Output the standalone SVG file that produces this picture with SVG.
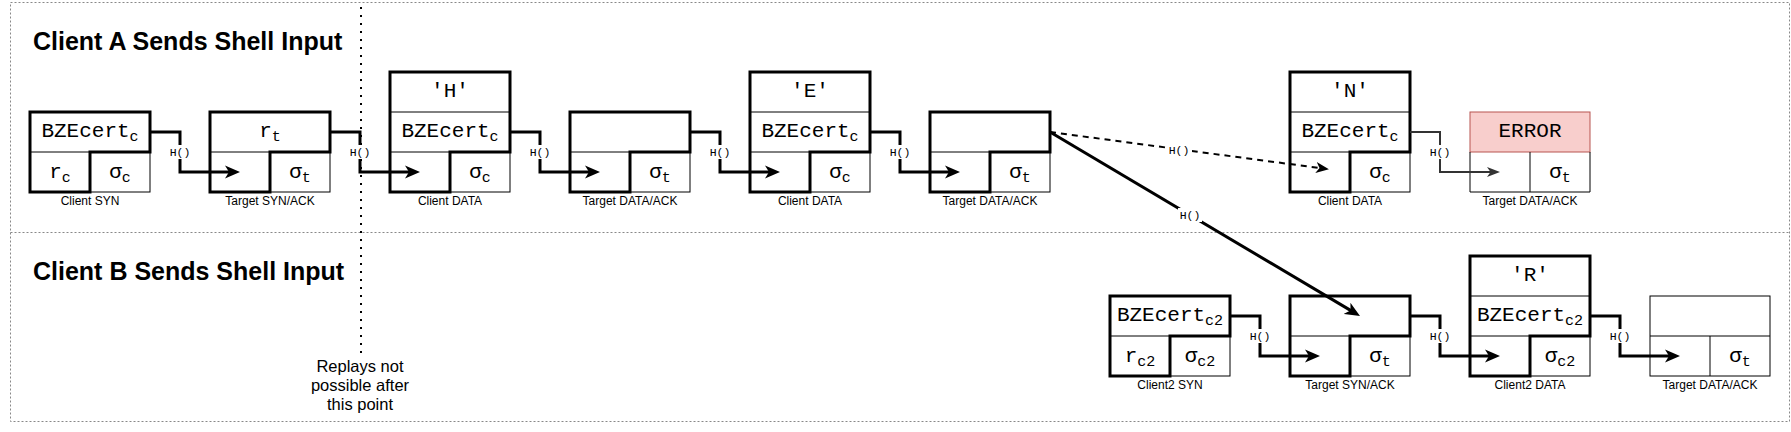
<svg xmlns="http://www.w3.org/2000/svg" width="1791" height="432" viewBox="0 0 1791 432">
<style>
.bg{fill:#fff}
.thin{fill:none;stroke:#000;stroke-width:1}
.thick{fill:none;stroke:#000;stroke-width:3;stroke-linejoin:miter}
.mono{font-family:"Liberation Mono","Courier New",monospace;font-size:21px;text-anchor:middle;fill:#000}
.sub{font-size:15px}
.lbl{font-family:"Liberation Sans",Arial,sans-serif;font-size:12px;text-anchor:middle;fill:#000}
.title{font-family:"Liberation Sans",Arial,sans-serif;font-size:25px;font-weight:bold;fill:#000}
.note{font-family:"Liberation Sans",Arial,sans-serif;font-size:16.5px;text-anchor:middle;fill:#000}
.conn{fill:none;stroke:#000;stroke-width:3}
.hl{font-family:"Liberation Mono","Courier New",monospace;font-size:11.5px;text-anchor:middle;fill:#000}
.border{fill:none;stroke:#888;stroke-width:1;stroke-dasharray:2 2}
</style>
<defs>
<marker id="arr" markerUnits="userSpaceOnUse" markerWidth="16" markerHeight="14" refX="5" refY="7" orient="auto" viewBox="0 0 16 14"><path d="M0,0.5 L15,7 L0,13.5 L4,7 Z" fill="#000"/></marker>
<marker id="arrm" markerUnits="userSpaceOnUse" markerWidth="14" markerHeight="12" refX="4" refY="6" orient="auto" viewBox="0 0 14 12"><path d="M0,0.5 L13,6 L0,11.5 L3.5,6 Z" fill="#000"/></marker>
<marker id="arrs" markerUnits="userSpaceOnUse" markerWidth="14" markerHeight="11" refX="4" refY="5" orient="auto" viewBox="0 0 14 11"><path d="M0,0 L13,5 L0,10 L3.5,5 Z" fill="#333"/></marker>
</defs>

<g id="frame">
<rect class="border" x="10.5" y="2.5" width="1779" height="419"/>
<line class="border" x1="10.5" y1="232.5" x2="1789.5" y2="232.5"/>
<text class="title" x="33" y="50">Client A Sends Shell Input</text>
<text class="title" x="33" y="280">Client B Sends Shell Input</text>
</g>

<g id="replay-marker">
<line x1="361" y1="7" x2="361" y2="354" stroke="#000" stroke-width="2" stroke-dasharray="2 6"/>
<text class="note" x="360" y="372">Replays not</text>
<text class="note" x="360" y="391">possible after</text>
<text class="note" x="360" y="410">this point</text>
</g>

<!-- Row A -->
<g id="a1-client-syn" transform="translate(30,112)">
<rect class="bg" x="0" y="0" width="120" height="80"/>
<rect class="thin" x="0" y="0" width="120" height="80"/>
<line class="thin" x1="0" y1="40" x2="120" y2="40"/>
<path class="thick" d="M0,80 V0 H120 V40 H60 V80 Z"/>
<text class="mono" x="60" y="25">BZEcert<tspan class="sub" dy="4">c</tspan></text>
<text class="mono" x="30" y="66">r<tspan class="sub" dy="4">c</tspan></text>
<text class="mono" x="90" y="66">σ<tspan class="sub" dy="4">c</tspan></text>
<text class="lbl" x="60" y="93">Client SYN</text>
</g>

<g id="a2-target-synack" transform="translate(210,112)">
<rect class="bg" x="0" y="0" width="120" height="80"/>
<rect class="thin" x="0" y="0" width="120" height="80"/>
<line class="thin" x1="0" y1="40" x2="120" y2="40"/>
<path class="thick" d="M0,80 V0 H120 V40 H60 V80 Z"/>
<text class="mono" x="60" y="25">r<tspan class="sub" dy="4">t</tspan></text>
<text class="mono" x="90" y="66">σ<tspan class="sub" dy="4">t</tspan></text>
<text class="lbl" x="60" y="93">Target SYN/ACK</text>
</g>

<g id="a3-client-data-h" transform="translate(390,72)">
<rect class="bg" x="0" y="0" width="120" height="120"/>
<rect class="thin" x="0" y="0" width="120" height="120"/>
<line class="thin" x1="0" y1="40" x2="120" y2="40"/>
<line class="thin" x1="0" y1="80" x2="120" y2="80"/>
<path class="thick" d="M0,120 V0 H120 V80 H60 V120 Z"/>
<text class="mono" x="60" y="25">'H'</text>
<text class="mono" x="60" y="65">BZEcert<tspan class="sub" dy="4">c</tspan></text>
<text class="mono" x="90" y="106">σ<tspan class="sub" dy="4">c</tspan></text>
<text class="lbl" x="60" y="133">Client DATA</text>
</g>

<g id="a4-target-dataack" transform="translate(570,112)">
<rect class="bg" x="0" y="0" width="120" height="80"/>
<rect class="thin" x="0" y="0" width="120" height="80"/>
<line class="thin" x1="0" y1="40" x2="120" y2="40"/>
<path class="thick" d="M0,80 V0 H120 V40 H60 V80 Z"/>
<text class="mono" x="90" y="66">σ<tspan class="sub" dy="4">t</tspan></text>
<text class="lbl" x="60" y="93">Target DATA/ACK</text>
</g>

<g id="a5-client-data-e" transform="translate(750,72)">
<rect class="bg" x="0" y="0" width="120" height="120"/>
<rect class="thin" x="0" y="0" width="120" height="120"/>
<line class="thin" x1="0" y1="40" x2="120" y2="40"/>
<line class="thin" x1="0" y1="80" x2="120" y2="80"/>
<path class="thick" d="M0,120 V0 H120 V80 H60 V120 Z"/>
<text class="mono" x="60" y="25">'E'</text>
<text class="mono" x="60" y="65">BZEcert<tspan class="sub" dy="4">c</tspan></text>
<text class="mono" x="90" y="106">σ<tspan class="sub" dy="4">c</tspan></text>
<text class="lbl" x="60" y="133">Client DATA</text>
</g>

<g id="a6-target-dataack" transform="translate(930,112)">
<rect class="bg" x="0" y="0" width="120" height="80"/>
<rect class="thin" x="0" y="0" width="120" height="80"/>
<line class="thin" x1="0" y1="40" x2="120" y2="40"/>
<path class="thick" d="M0,80 V0 H120 V40 H60 V80 Z"/>
<text class="mono" x="90" y="66">σ<tspan class="sub" dy="4">t</tspan></text>
<text class="lbl" x="60" y="93">Target DATA/ACK</text>
</g>

<g id="a7-client-data-n" transform="translate(1290,72)">
<rect class="bg" x="0" y="0" width="120" height="120"/>
<rect class="thin" x="0" y="0" width="120" height="120"/>
<line class="thin" x1="0" y1="40" x2="120" y2="40"/>
<line class="thin" x1="0" y1="80" x2="120" y2="80"/>
<path class="thick" d="M0,120 V0 H120 V80 H60 V120 Z"/>
<text class="mono" x="60" y="25">'N'</text>
<text class="mono" x="60" y="65">BZEcert<tspan class="sub" dy="4">c</tspan></text>
<text class="mono" x="90" y="106">σ<tspan class="sub" dy="4">c</tspan></text>
<text class="lbl" x="60" y="133">Client DATA</text>
</g>

<g id="a8-target-error" transform="translate(1470,112)">
<rect class="bg" x="0" y="0" width="120" height="80"/>
<rect x="0" y="0" width="120" height="40" fill="#f8cecc" stroke="#b85450" stroke-width="1"/>
<path class="thin" d="M0,40 V80 H120 V40 M60,40 V80"/>
<text class="mono" x="60" y="25" fill="#333">ERROR</text>
<text class="mono" x="90" y="66">σ<tspan class="sub" dy="4">t</tspan></text>
<text class="lbl" x="60" y="93">Target DATA/ACK</text>
</g>

<!-- Row B -->
<g id="b1-client2-syn" transform="translate(1110,296)">
<rect class="bg" x="0" y="0" width="120" height="80"/>
<rect class="thin" x="0" y="0" width="120" height="80"/>
<line class="thin" x1="0" y1="40" x2="120" y2="40"/>
<path class="thick" d="M0,80 V0 H120 V40 H60 V80 Z"/>
<text class="mono" x="60" y="25">BZEcert<tspan class="sub" dy="4">c2</tspan></text>
<text class="mono" x="30" y="66">r<tspan class="sub" dy="4">c2</tspan></text>
<text class="mono" x="90" y="66">σ<tspan class="sub" dy="4">c2</tspan></text>
<text class="lbl" x="60" y="93">Client2 SYN</text>
</g>

<g id="b2-target-synack" transform="translate(1290,296)">
<rect class="bg" x="0" y="0" width="120" height="80"/>
<rect class="thin" x="0" y="0" width="120" height="80"/>
<line class="thin" x1="0" y1="40" x2="120" y2="40"/>
<path class="thick" d="M0,80 V0 H120 V40 H60 V80 Z"/>
<text class="mono" x="90" y="66">σ<tspan class="sub" dy="4">t</tspan></text>
<text class="lbl" x="60" y="93">Target SYN/ACK</text>
</g>

<g id="b3-client2-data-r" transform="translate(1470,256)">
<rect class="bg" x="0" y="0" width="120" height="120"/>
<rect class="thin" x="0" y="0" width="120" height="120"/>
<line class="thin" x1="0" y1="40" x2="120" y2="40"/>
<line class="thin" x1="0" y1="80" x2="120" y2="80"/>
<path class="thick" d="M0,120 V0 H120 V80 H60 V120 Z"/>
<text class="mono" x="60" y="25">'R'</text>
<text class="mono" x="60" y="65">BZEcert<tspan class="sub" dy="4">c2</tspan></text>
<text class="mono" x="90" y="106">σ<tspan class="sub" dy="4">c2</tspan></text>
<text class="lbl" x="60" y="133">Client2 DATA</text>
</g>

<g id="b4-target-dataack" transform="translate(1650,296)">
<rect class="bg" x="0" y="0" width="120" height="80"/>
<rect class="thin" x="0" y="0" width="120" height="80"/>
<path class="thin" d="M0,40 H120 M60,40 V80"/>
<text class="mono" x="90" y="66">σ<tspan class="sub" dy="4">t</tspan></text>
<text class="lbl" x="60" y="93">Target DATA/ACK</text>
</g>

<g id="connectors">
<path class="conn" d="M150,132 H180 V172 H230" marker-end="url(#arr)"/>
<path class="conn" d="M330,132 H360 V172 H410" marker-end="url(#arr)"/>
<path class="conn" d="M510,132 H540 V172 H590" marker-end="url(#arr)"/>
<path class="conn" d="M690,132 H720 V172 H770" marker-end="url(#arr)"/>
<path class="conn" d="M870,132 H900 V172 H950" marker-end="url(#arr)"/>
<path d="M1050,132 L1320,168.1" fill="none" stroke="#000" stroke-width="2" stroke-dasharray="6 5" marker-end="url(#arrm)"/>
<path class="conn" d="M1050,132 L1351.4,310.9" marker-end="url(#arr)"/>
<path d="M1410,132 H1440 V172 H1491" fill="none" stroke="#333" stroke-width="2" marker-end="url(#arrs)"/>
<path class="conn" d="M1230,316 H1260 V356 H1310" marker-end="url(#arr)"/>
<path class="conn" d="M1410,316 H1440 V356 H1490" marker-end="url(#arr)"/>
<path class="conn" d="M1590,316 H1620 V356 H1670" marker-end="url(#arr)"/>
<g id="connector-labels">
<rect class="bg" x="168" y="145" width="24" height="14"/><text class="hl" x="180" y="156">H()</text>
<rect class="bg" x="348" y="145" width="24" height="14"/><text class="hl" x="360" y="156">H()</text>
<rect class="bg" x="528" y="145" width="24" height="14"/><text class="hl" x="540" y="156">H()</text>
<rect class="bg" x="708" y="145" width="24" height="14"/><text class="hl" x="720" y="156">H()</text>
<rect class="bg" x="888" y="145" width="24" height="14"/><text class="hl" x="900" y="156">H()</text>
<rect class="bg" x="1166" y="142.5" width="26" height="14"/><text class="hl" x="1179" y="153.5">H()</text>
<rect class="bg" x="1178" y="208" width="24" height="14"/><text class="hl" x="1190" y="219">H()</text>
<rect class="bg" x="1428" y="145" width="24" height="14"/><text class="hl" x="1440" y="156">H()</text>
<rect class="bg" x="1248" y="329" width="24" height="14"/><text class="hl" x="1260" y="340">H()</text>
<rect class="bg" x="1428" y="329" width="24" height="14"/><text class="hl" x="1440" y="340">H()</text>
<rect class="bg" x="1608" y="329" width="24" height="14"/><text class="hl" x="1620" y="340">H()</text>
</g>
</g>
</svg>
